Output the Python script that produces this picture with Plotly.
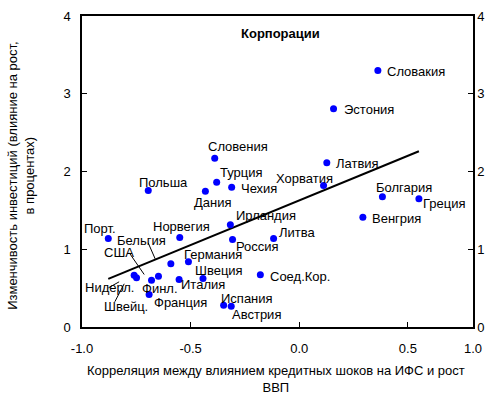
import numpy as np
import plotly.graph_objects as go

# Country labels and their coordinates
countries = [
    "Словакия", "Эстония", "Словения", "Латвия", "Турция", "Чехия", "Польша",
    "Дания", "Хорватия", "Болгария", "Греция", "Венгрия", "Ирландия", "Порт.",
    "Норвегия", "Россия", "Литва", "Германия", "Финл.", "Швеция", "Италия",
    "Соед.Кор.", "Испания", "Австрия", "Франция", "Нидерл.", "Швейц.", "США",
    "Бельгия",
]
correlation = [
    0.362, 0.158, -0.389, 0.127, -0.380, -0.311, -0.695,
    -0.432, 0.112, 0.383, 0.551, 0.293, -0.317, -0.879,
    -0.550, -0.307, -0.118, -0.510, -0.591, -0.443, -0.553,
    -0.179, -0.348, -0.313, -0.691, -0.760, -0.749, -0.680,
    -0.648,
]
volatility = [
    3.299, 2.806, 2.171, 2.112, 1.862, 1.798, 1.756,
    1.747, 1.820, 1.675, 1.649, 1.412, 1.314, 1.138,
    1.151, 1.125, 1.138, 0.839, 0.813, 0.624, 0.611,
    0.671, 0.280, 0.268, 0.418, 0.666, 0.633, 0.602,
    0.653,
]

x_tick_vals = [-1.0, -0.5, 0.0, 0.5, 0.8]
x_tick_text = ["-1.0", "-0.5", "0.0", "0.5", "1.0"]
y_tick_vals = [0, 1, 2, 3, 4]

# Label placement: (anchor, dx, dy) in screen pixels from the marker, dy downward
label_offsets = {
    "Словакия": ("left", 7, 0.7), "Эстония": ("left", 8, 0.7),
    "Словения": ("center", 23.7, -11.4), "Латвия": ("left", 7.3, 1),
    "Турция": ("left", 1, -9.4), "Чехия": ("left", 7.7, 1.3),
    "Польша": ("center", 14.8, -8.3), "Дания": ("center", 7.5, 11),
    "Хорватия": ("center", -18.6, -7.3), "Болгария": ("center", 21.9, -9.6),
    "Греция": ("left", 2, 5), "Венгрия": ("left", 7.3, 1),
    "Ирландия": ("left", 3.3, -9.3), "Порт.": ("center", -8, -9.7),
    "Норвегия": ("center", 2.2, -11.3), "Россия": ("left", 1.7, 6.7),
    "Литва": ("left", 3.3, -6.3), "Германия": ("left", -6.3, -7.3),
    "Финл.": ("center", -10.8, 25), "Швеция": ("left", -10.4, -8.3),
    "Италия": ("left", 0.3, 5), "Соед.Кор.": ("left", 7.7, 1.4),
    "Испания": ("left", -5, -6.4), "Австрия": ("left", -1, 8.3),
    "Франция": ("left", 3, 8.3),
    "Нидерл.": ("center", -24.2, 12.6), "Швейц.": ("center", -10.3, 28.4),
    "США": ("center", -32.8, -27.4), "Бельгия": ("center", -16.8, -36),
}
# Leader lines: start and end offsets in pixels from the marker (y up)
leader_lines = {
    "Бельгия": (-10.3, 33.4, -3.3, 17.4),
    "США": (-22.3, 27.4, -7.3, 5.7),
    "Нидерл.": (-25.7, -12.6, -15, -6.6),
    "Швейц.": (-21.7, -24, -12.3, -6),
}

FONT = "Liberation Sans, Arial, sans-serif"
x = np.array(correlation)
y = np.array(volatility)

# Least-squares trend line across the range of the data
slope, intercept = np.polyfit(x, y, 1)
trend_x = np.array([x.min(), x.max()])
trend_y = slope * trend_x + intercept

fig = go.Figure()
fig.add_trace(go.Scatter(
    x=trend_x, y=trend_y, mode="lines",
    line=dict(color="black", width=2), hoverinfo="skip", showlegend=False,
))
fig.add_trace(go.Scatter(
    x=correlation, y=volatility, mode="markers",
    marker=dict(color="#0000FF", size=7), text=countries,
    hoverinfo="text", showlegend=False,
))
# Right-hand axis copy
fig.add_trace(go.Scatter(x=[None], y=[None], yaxis="y2", showlegend=False,
                         hoverinfo="skip"))

annotations = []
for name, cx, cy in zip(countries, correlation, volatility):
    anchor, dx, dy = label_offsets[name]
    annotations.append(dict(
        x=cx, y=cy, xref="x", yref="y", text=name, showarrow=False,
        xanchor=anchor, yanchor="middle", xshift=dx, yshift=-dy,
        font=dict(family=FONT, size=13, color="black"),
    ))

shapes = []
for name, (x0, y0, x1, y1) in leader_lines.items():
    i = countries.index(name)
    shapes.append(dict(
        type="line", xref="x", yref="y",
        xsizemode="pixel", ysizemode="pixel",
        xanchor=correlation[i], yanchor=volatility[i],
        x0=x0, y0=y0, x1=x1, y1=y1,
        line=dict(color="black", width=1),
    ))

annotations.append(dict(
    x=0.5, y=1, xref="paper", yref="paper", xshift=3, yshift=-17.3,
    text="<b>Корпорации</b>", showarrow=False, xanchor="center",
    yanchor="middle", font=dict(family=FONT, size=13, color="black"),
))
annotations.append(dict(
    x=0.5, y=0, xref="paper", yref="paper", xshift=-2, yshift=-34,
    text="Корреляция между влиянием кредитных шоков на ИФС и рост<br>ВВП",
    showarrow=False, xanchor="center", yanchor="top",
    font=dict(family=FONT, size=13, color="black"),
))
annotations.append(dict(
    x=(21 - 82) / 391, y=0.486, xref="paper", yref="paper", textangle=-90,
    text="Изменчивость инвестиций (влияние на рост,<br>в процентах)",
    showarrow=False, xanchor="center", yanchor="middle",
    font=dict(family=FONT, size=13, color="black"),
))

axis_common = dict(
    showgrid=False, zeroline=False, showline=True, linecolor="black",
    linewidth=1.5, ticks="inside", ticklen=5, tickcolor="black",
    tickfont=dict(family=FONT, size=13, color="black"),
)

fig.update_layout(
    width=489, height=396,
    margin=dict(l=82, r=16, t=16, b=69, autoexpand=False),
    paper_bgcolor="white", plot_bgcolor="white",
    xaxis=dict(range=[-1.0, 0.8], tickvals=x_tick_vals, ticktext=x_tick_text,
               mirror=True, ticklabelstandoff=9, **axis_common),
    yaxis=dict(range=[0, 4], tickvals=y_tick_vals, ticklabelstandoff=7,
               **axis_common),
    yaxis2=dict(range=[0, 4], tickvals=y_tick_vals, overlaying="y",
                side="right", anchor="x", **axis_common),
    annotations=annotations,
    shapes=shapes,
    hovermode="closest",
    showlegend=False,
)

fig.write_html("out.html", config={"displayModeBar": False})
